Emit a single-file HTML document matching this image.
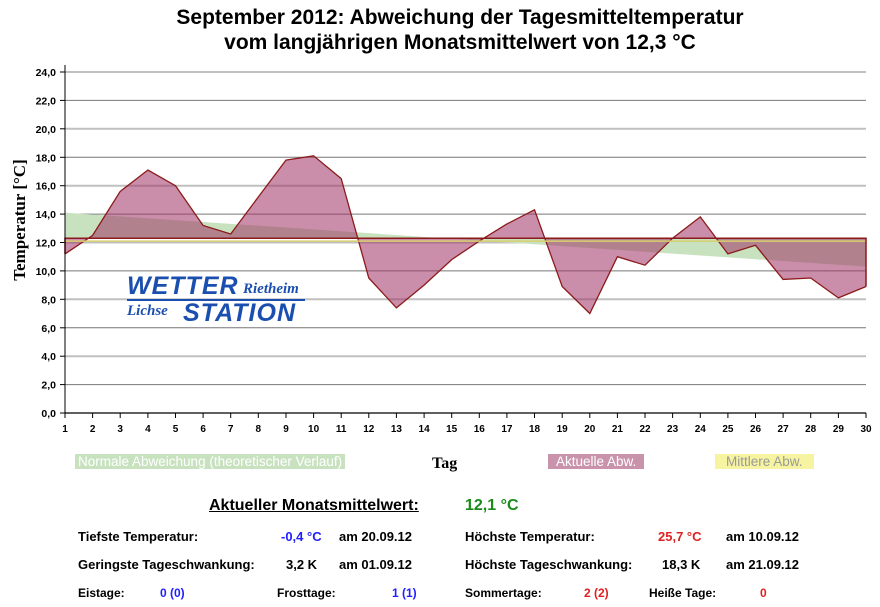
<!DOCTYPE html><html><head><style>
body{margin:0;background:#fff;width:880px;height:607px;overflow:hidden;font-family:"Liberation Sans",sans-serif}
.t{position:absolute;white-space:nowrap}
.b{font-weight:bold;font-size:13px}
</style></head><body>
<div class="t" style="left:0;width:920px;text-align:center;top:5px;font-size:21px;font-weight:bold;line-height:25px">September 2012: Abweichung der Tagesmitteltemperatur<br>vom langjährigen Monatsmittelwert von 12,3 °C</div>
<svg id="s" width="880" height="607" style="position:absolute;left:0;top:0"></svg>
<div class="t" style="left:-50px;top:210px;width:140px;text-align:center;transform:rotate(-90deg);font-family:'Liberation Serif',serif;font-weight:bold;font-size:17px">Temperatur [°C]</div>
<div class="t" style="left:127px;top:272px;color:#1a4fb0;font-style:italic;font-weight:900;font-size:25px;letter-spacing:1px">WETTER</div>
<div class="t" style="left:243px;top:281px;color:#1a4fb0;font-style:italic;font-weight:bold;font-family:'Liberation Serif',serif;font-size:15px">Rietheim</div>
<div style="position:absolute;left:127px;top:299px;width:178px;height:2px;background:#1a4fb0"></div>
<div class="t" style="left:127px;top:303px;color:#1a4fb0;font-style:italic;font-weight:bold;font-family:'Liberation Serif',serif;font-size:15px">Lichse</div>
<div class="t" style="left:183px;top:299px;color:#1a4fb0;font-style:italic;font-weight:900;font-size:25px;letter-spacing:1px">STATION</div>
<div class="t" style="left:75px;top:454px;background:#c8e2c0;color:#fff;font-size:13.5px;padding:0 3px">Normale Abweichung (theoretischer Verlauf)</div>
<div class="t" style="left:432px;top:455px;font-family:'Liberation Serif',serif;font-weight:bold;font-size:16px">Tag</div>
<div class="t" style="left:548px;top:454px;background:#c994ab;color:#fff;font-size:13.5px;padding:0 8px">Aktuelle Abw.</div>
<div class="t" style="left:715px;top:454px;background:#f6f4a0;color:#999;font-size:13.5px;padding:0 11px">Mittlere Abw.</div>
<div class="t" style="left:209px;top:497px;font-weight:bold;font-size:16px;text-decoration:underline">Aktueller Monatsmittelwert:</div>
<div class="t" style="left:465px;top:497px;font-weight:bold;font-size:16px;color:#1a8a1a">12,1 °C</div>
<div class="t b" style="left:78px;top:529px">Tiefste Temperatur:</div>
<div class="t b" style="left:281px;top:529px;color:#2020ff">-0,4 °C</div>
<div class="t b" style="left:339px;top:529px">am 20.09.12</div>
<div class="t b" style="left:465px;top:529px">Höchste Temperatur:</div>
<div class="t b" style="left:658px;top:529px;color:#e02020">25,7 °C</div>
<div class="t b" style="left:726px;top:529px">am 10.09.12</div>
<div class="t b" style="left:78px;top:557px">Geringste Tageschwankung:</div>
<div class="t b" style="left:286px;top:557px">3,2 K</div>
<div class="t b" style="left:339px;top:557px">am 01.09.12</div>
<div class="t b" style="left:465px;top:557px">Höchste Tageschwankung:</div>
<div class="t b" style="left:662px;top:557px">18,3 K</div>
<div class="t b" style="left:726px;top:557px">am 21.09.12</div>
<div class="t b" style="left:78px;top:586px;font-size:12px">Eistage:</div>
<div class="t b" style="left:160px;top:586px;font-size:12px;color:#2020ff">0 (0)</div>
<div class="t b" style="left:277px;top:586px;font-size:12px">Frosttage:</div>
<div class="t b" style="left:392px;top:586px;font-size:12px;color:#2020ff">1 (1)</div>
<div class="t b" style="left:465px;top:586px;font-size:12px">Sommertage:</div>
<div class="t b" style="left:584px;top:586px;font-size:12px;color:#e02020">2 (2)</div>
<div class="t b" style="left:649px;top:586px;font-size:12px">Heiße Tage:</div>
<div class="t b" style="left:760px;top:586px;font-size:12px;color:#e02020">0</div>
<script>
var d=[11.2,12.5,15.6,17.1,16.0,13.2,12.6,15.2,17.8,18.1,16.5,9.5,7.4,9.0,10.8,12.1,13.3,14.3,8.9,7.0,11.0,10.4,12.3,13.8,11.2,11.8,9.4,9.5,8.1,8.9];
function X(i){return 65+i*27.62}function Y(v){return 413-v*14.208}
var h='';
for(var v=0;v<=24;v+=2){var y=Y(v).toFixed(1);var dark=(v/2)%2==1;
h+='<line x1="65" x2="866" y1="'+y+'" y2="'+y+'" stroke="'+(dark?'#777':'#c0c0c0')+'" stroke-width="'+(dark?1:2)+'"/>';
h+='<line x1="60" x2="65" y1="'+y+'" y2="'+y+'" stroke="#000"/>';
h+='<text x="56" y="'+(+y+4)+'" text-anchor="end" font-size="10.5" font-weight="bold" font-family="Liberation Sans">'+v.toFixed(1).replace('.',',')+'</text>';}
var m=Y(12.3);
h+='<polygon points="65,'+Y(14.1)+' 866,'+Y(10.3)+' 866,'+m+' 65,'+m+'" fill="#c8e2c0"/>';
var p='65,'+m;for(var i=0;i<30;i++)p+=' '+X(i).toFixed(1)+','+Y(d[i]).toFixed(1);p+=' 866,'+m;
h+='<polygon points="'+p+'" fill="rgba(160,50,100,0.55)"/>';
var l='';for(var i=0;i<30;i++)l+=' '+X(i).toFixed(1)+','+Y(d[i]).toFixed(1);
h+='<polyline points="'+l+'" fill="none" stroke="#8b1a1a" stroke-width="1.3"/>';
h+='<line x1="65" x2="866" y1="'+Y(12.1)+'" y2="'+Y(12.1)+'" stroke="#d8d070" stroke-width="1.5"/>';
h+='<polyline points="65,'+Y(11.2)+' 65,'+m+' 866,'+m+' 866,'+Y(8.9)+'" fill="none" stroke="#8b1a1a" stroke-width="1.5"/>';
h+='<line x1="65" x2="65" y1="65" y2="413" stroke="#000"/><line x1="65" x2="866" y1="413" y2="413" stroke="#000"/>';
for(var i=0;i<30;i++){var x=X(i).toFixed(1);h+='<line x1="'+x+'" x2="'+x+'" y1="413" y2="418" stroke="#000"/><text x="'+x+'" y="432" text-anchor="middle" font-size="10" font-weight="bold" font-family="Liberation Sans">'+(i+1)+'</text>';}
document.getElementById('s').innerHTML=h;
</script>
</body></html>
